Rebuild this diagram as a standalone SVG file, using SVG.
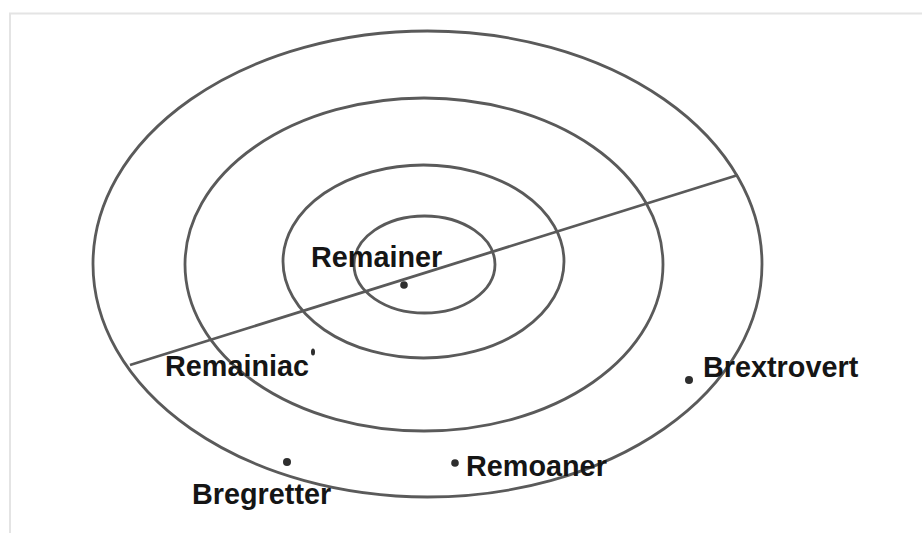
<svg xmlns="http://www.w3.org/2000/svg" width="922" height="533" viewBox="0 0 922 533">
<style>
.ring{fill:none;stroke:#5a5a5a;stroke-width:2.8}
.dot{fill:#2e2e2e}
.lbl{font-family:"Liberation Sans",Arial,sans-serif;font-weight:bold;font-size:28.8px;fill:#151515}
</style>
<rect width="922" height="533" fill="#ffffff"/>
<path d="M10 533 V13.5 H922" fill="none" stroke="#e4e4e4" stroke-width="2"/>
<g id="rings">
<ellipse id="ring-outer" class="ring" cx="427.5" cy="264" rx="334.5" ry="233"/>
<ellipse id="ring-2" class="ring" cx="424" cy="264.5" rx="239" ry="166.5"/>
<ellipse id="ring-3" class="ring" cx="423.5" cy="261.5" rx="140.5" ry="96.5"/>
<ellipse id="ring-inner" class="ring" cx="424.5" cy="264.5" rx="70.5" ry="48.5"/>
</g>
<g id="connectors">
<line class="ring" x1="130" y1="365" x2="738" y2="175"/>
</g>
<g id="remainer">
<circle class="dot" cx="404" cy="285" r="3.8"/>
<text class="lbl" x="311" y="267">Remainer</text>
</g>
<g id="remainiac">
<ellipse class="dot" cx="313" cy="352" rx="2" ry="3.5"/>
<text class="lbl" x="165" y="376">Remainiac</text>
</g>
<g id="bregretter">
<circle class="dot" cx="287" cy="462" r="4"/>
<text class="lbl" x="192" y="504">Bregretter</text>
</g>
<g id="remoaner">
<circle class="dot" cx="455" cy="463" r="3.8"/>
<text class="lbl" x="466" y="476">Remoaner</text>
</g>
<g id="brextrovert">
<circle class="dot" cx="689" cy="380" r="4"/>
<text class="lbl" x="703" y="377">Brextrovert</text>
</g>
</svg>
